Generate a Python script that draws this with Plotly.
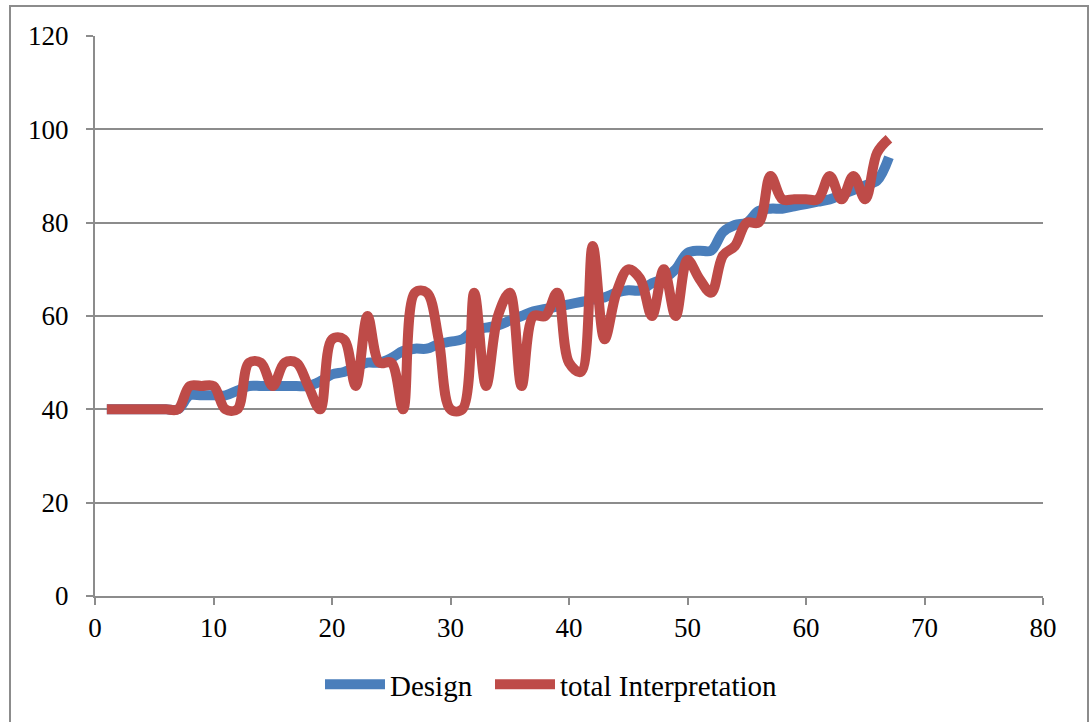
import plotly.graph_objects as go

x_vals = list(range(1, 68))

design = [40, 40, 40, 40, 40, 40, 40, 43, 43, 43,
          43, 44, 45, 45, 45, 45, 45, 45, 46, 47.5,
          48, 49, 50, 50, 51, 52.5, 53, 53, 54, 54.5,
          55, 57, 57.5, 58, 59, 60, 61, 61.5, 62, 62.5,
          63, 63.5, 64, 65, 65.5, 65.5, 67, 68, 70, 73.5,
          74, 74, 78, 79.5, 80, 82.5, 83, 83, 83.5, 84,
          84.5, 85, 86, 87, 88, 89, 94]

total_interp = [40, 40, 40, 40, 40, 40, 40, 45, 45, 45,
                40, 40, 50, 50, 45, 50, 50, 45, 40, 55,
                55, 45, 60, 50, 50, 40, 65, 65, 55, 40,
                40, 65, 45, 60, 65, 45, 60, 60, 65, 50,
                48, 75, 55, 65, 70, 68, 60, 70, 60, 72,
                68, 65, 73, 75, 80, 80, 90, 85, 85, 85,
                85, 90, 85, 90, 85, 95, 98]

series_names = ["Design", "total Interpretation"]
x_ticks = [0, 10, 20, 30, 40, 50, 60, 70, 80]
y_ticks = [0, 20, 40, 60, 80, 100, 120]

FONT = "Liberation Serif"
GRID = "#8c8c8c"

fig = go.Figure()
fig.add_trace(go.Scatter(x=x_vals, y=design, mode="lines", name=series_names[0], legend="legend",
                         line=dict(color="#4a7ebb", width=10, shape="spline", smoothing=1.0)))
fig.add_trace(go.Scatter(x=x_vals, y=total_interp, mode="lines", name=series_names[1], legend="legend2",
                         line=dict(color="#be4b48", width=10, shape="spline", smoothing=1.0)))

leg_common = dict(orientation="h", xanchor="left", y=-0.158, yanchor="middle",
                  font=dict(family=FONT, size=29), itemwidth=60, bgcolor="rgba(0,0,0,0)")

fig.update_layout(
    width=1092, height=722,
    margin=dict(l=95, r=49, t=36, b=124),
    paper_bgcolor="white", plot_bgcolor="white",
    font=dict(family=FONT, size=27, color="black"),
    showlegend=True,
    legend=dict(x=(320 - 95) / 948, **leg_common),
    legend2=dict(x=(490 - 95) / 948, **leg_common),
    xaxis=dict(range=[0, 80], tickvals=x_ticks, showgrid=False, zeroline=False,
               showline=True, linecolor=GRID, linewidth=2,
               ticks="outside", ticklen=7, tickwidth=2, tickcolor=GRID),
    yaxis=dict(range=[0, 120], tickvals=y_ticks, showgrid=True, gridcolor=GRID, gridwidth=1.5,
               zeroline=False, showline=True, linecolor=GRID, linewidth=2,
               ticks="outside", ticklen=7, tickwidth=2, tickcolor=GRID, ticklabelstandoff=12),
    shapes=[dict(type="rect", xref="paper", yref="paper",
                 x0=(10 - 95) / 948, x1=(1088 - 95) / 948,
                 y0=(598 - 730) / 562, y1=(598 - 6) / 562,
                 line=dict(color="#8c8c8c", width=2), fillcolor="rgba(0,0,0,0)", layer="below")],
)

fig.write_html("out.html", config={"displayModeBar": False},
               post_script="document.body.style.margin='0';document.body.style.overflow='hidden';")
